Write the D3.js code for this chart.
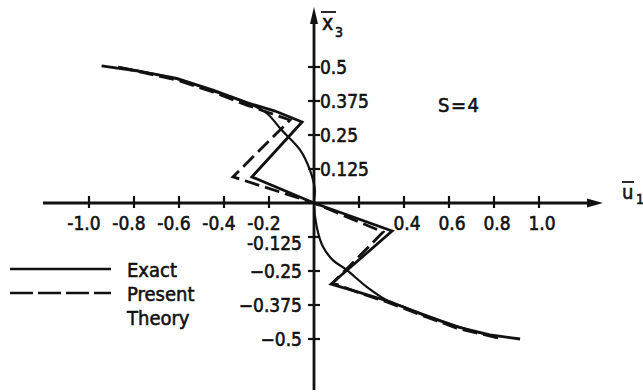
<!DOCTYPE html>
<html>
<head>
<meta charset="utf-8">
<script src="https://cdn.jsdelivr.net/npm/d3@7/dist/d3.min.js"></script>
<style>
  html, body { margin: 0; padding: 0; background: #fff; }
  svg text { font-family: "DejaVu Sans Condensed", "DejaVu Sans", "Liberation Sans", Arial, sans-serif; fill: #111; stroke: #111; stroke-width: 0.55; }
</style>
</head>
<body>
<svg id="chart" width="643" height="392"></svg>
<script>
// In-plane displacement u1 through the thickness x3, span ratio S = 4.
// Each series is a list of [u1, x3] pairs, read from top to bottom of the laminate.
const exactZigzag = [
  [-0.944, 0.504], [-0.78, 0.485], [-0.61, 0.458], [-0.449, 0.415], [-0.299, 0.369],
  [-0.173, 0.338], [-0.053, 0.298], [-0.276, 0.096], [0.0, 0.0], [0.347, -0.103],
  [0.076, -0.298], [0.19, -0.326], [0.338, -0.363], [0.486, -0.412], [0.634, -0.455],
  [0.782, -0.485], [0.916, -0.5]
];
const presentTheory = [
  [-0.87, 0.5], [-0.61, 0.452], [-0.449, 0.408], [-0.299, 0.36], [-0.107, 0.305],
  [-0.36, 0.096], [0.0, 0.0], [0.307, -0.107], [0.084, -0.294], [0.2, -0.33],
  [0.338, -0.368], [0.486, -0.415], [0.634, -0.46], [0.818, -0.496]
];
const smoothCurve = [
  [-0.87, 0.5], [-0.61, 0.456], [-0.449, 0.412], [-0.299, 0.369], [-0.21, 0.33],
  [-0.144, 0.268], [-0.062, 0.195], [-0.018, 0.121], [0.004, 0.048], [0.0, 0.0],
  [0.012, -0.087], [0.04, -0.161], [0.084, -0.21], [0.145, -0.246], [0.234, -0.308],
  [0.323, -0.357], [0.412, -0.386], [0.634, -0.452], [0.818, -0.496]
];

const xTickValues = [-1.0, -0.8, -0.6, -0.4, -0.2, 0.2, 0.4, 0.6, 0.8, 1.0];
const xTickLabels = ["-1.0", "-0.8", "-0.6", "-0.4", "-0.2", "", "0.4", "0.6", "0.8", "1.0"];
const yTickValues = [0.5, 0.375, 0.25, 0.125, -0.125, -0.25, -0.375, -0.5];
const yTickLabels = ["0.5", "0.375", "0.25", "0.125", "-0.125", "\u22120.25", "\u22120.375", "\u22120.5"];

const legendItems = [
  { lines: ["Exact"], dash: null },
  { lines: ["Present", "Theory"], dash: "23,5" }
];
const parameterLabel = "S=4";

const svg = d3.select("#chart");
const x = d3.scaleLinear().domain([-1, 1]).range([89, 539]);
const y = d3.scaleLinear().domain([-0.5, 0.5]).range([339, 67]);
const x0 = x(0), y0 = y(0);
const ink = "#111";

// axes with arrowheads
svg.append("line").attr("x1", 43).attr("x2", 590).attr("y1", y0).attr("y2", y0)
  .attr("stroke", ink).attr("stroke-width", 2.8);
svg.append("path").attr("d", `M${603},${y0} L${587},${y0 - 4.5} L${587},${y0 + 4.5} Z`).attr("fill", ink);
svg.append("line").attr("x1", x0).attr("x2", x0).attr("y1", 390).attr("y2", 20)
  .attr("stroke", ink).attr("stroke-width", 2.8);
svg.append("path").attr("d", `M${x0},${7} L${x0 - 4},${24} L${x0 + 4},${24} Z`).attr("fill", ink);

// x ticks and labels
const xt = svg.append("g");
xTickValues.forEach((v, i) => {
  xt.append("line").attr("x1", x(v)).attr("x2", x(v)).attr("y1", y0 - 7).attr("y2", y0 + 5)
    .attr("stroke", ink).attr("stroke-width", 2.2);
  if (xTickLabels[i]) {
    xt.append("text").attr("x", x(v) + (v < 0 ? -5 : 3)).attr("y", 230)
      .attr("text-anchor", "middle").attr("font-size", 19).text(xTickLabels[i]);
  }
});

// y ticks and labels; the first label under the axis sits a little lower to clear -0.2
const yt = svg.append("g");
yTickValues.forEach((v, i) => {
  yt.append("line").attr("x1", x0 - 6).attr("x2", x0 + 6).attr("y1", y(v)).attr("y2", y(v))
    .attr("stroke", ink).attr("stroke-width", 2.2);
  const dy = v > 0 ? 7 : (v === -0.125 ? 13 : 7);
  yt.append("text")
    .attr("x", v > 0 ? x0 + 6 : x0 - 12)
    .attr("y", y(v) + dy)
    .attr("text-anchor", v > 0 ? "start" : "end")
    .attr("font-size", 19).text(yTickLabels[i]);
});

// axis titles: x3 and u1 with overbars
const ty = svg.append("g");
ty.append("text").attr("x", 322).attr("y", 30).attr("font-size", 21).text("x");
ty.append("text").attr("x", 335).attr("y", 37).attr("font-size", 14).text("3");
ty.append("line").attr("x1", 321).attr("x2", 336).attr("y1", 12).attr("y2", 12).attr("stroke", ink).attr("stroke-width", 1.8);
const tx = svg.append("g");
tx.append("text").attr("x", 622).attr("y", 199).attr("font-size", 20).text("u");
tx.append("text").attr("x", 636).attr("y", 204).attr("font-size", 14).text("1");
tx.append("line").attr("x1", 622).attr("x2", 634).attr("y1", 182).attr("y2", 182).attr("stroke", ink).attr("stroke-width", 1.8);

svg.append("text").attr("x", 438).attr("y", 112).attr("font-size", 20)
  .attr("letter-spacing", 1.5).text(parameterLabel);

// curves
const line = d3.line().x(d => x(d[0])).y(d => y(d[1]));
const smooth = d3.line().x(d => x(d[0])).y(d => y(d[1])).curve(d3.curveCatmullRom.alpha(0.5));

svg.append("path").datum(smoothCurve).attr("d", smooth)
  .attr("fill", "none").attr("stroke", ink).attr("stroke-width", 2.2);
svg.append("path").datum(presentTheory).attr("d", line)
  .attr("fill", "none").attr("stroke", ink).attr("stroke-width", 2.8)
  .attr("stroke-dasharray", "15,6").attr("stroke-linejoin", "miter");
svg.append("path").datum(exactZigzag).attr("d", line)
  .attr("fill", "none").attr("stroke", ink).attr("stroke-width", 2.8).attr("stroke-linejoin", "miter");

// legend
const lg = svg.append("g");
const legendY = [269, 293];
legendItems.forEach((item, i) => {
  const ly = legendY[i];
  const l = lg.append("line").attr("x1", 10).attr("x2", 111).attr("y1", ly).attr("y2", ly)
    .attr("stroke", ink).attr("stroke-width", 2.4);
  if (item.dash) l.attr("stroke-dasharray", item.dash);
  item.lines.forEach((t, j) => {
    lg.append("text").attr("x", 127).attr("y", ly + 8 + j * 24).attr("font-size", 20).text(t);
  });
});
</script>
</body>
</html>
